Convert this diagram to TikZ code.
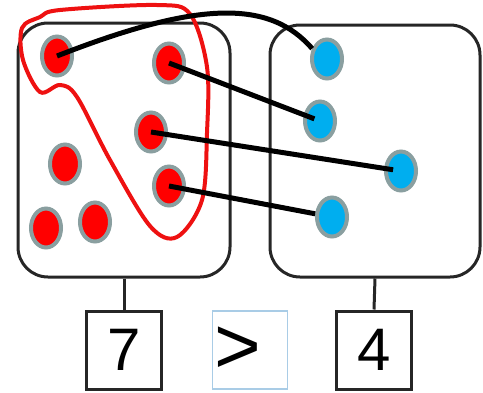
\documentclass[tikz,border=0pt]{standalone}
\usepackage{fontspec}
\setmainfont{Liberation Sans}
\definecolor{GrisBord}{HTML}{8A9FA0}
\definecolor{BleuPoint}{HTML}{00AEEF}
\definecolor{BleuCase}{HTML}{A9CCE6}
\definecolor{RougeLasso}{HTML}{EE1111}
\usetikzlibrary{shapes.geometric}
\usetikzlibrary{positioning}
\begin{document}
\begin{tikzpicture}
	[x=1pt, y=-1pt,
	boite/.style = {shape=rectangle, rounded corners=30pt, draw=black!85, line width=3pt},
	point/.style = {shape=ellipse, minimum width=30pt, minimum height=39pt, inner sep=0pt,
		draw=GrisBord, line width=4pt},
	rouge/.style = {point, fill=red},
	bleu/.style = {point, fill=BleuPoint},
	case/.style = {shape=rectangle, minimum width=75pt, minimum height=78pt, inner sep=0pt,
		draw=black!85, line width=3pt, font=\fontsize{60}{62}\selectfont},
	lien/.style = {draw=black, line width=5pt}]
	\useasboundingbox (0,0) rectangle (483,392);
	\node[boite, minimum width=212pt, minimum height=254pt] (G) at (124,150) {};
	\node[boite, minimum width=210pt, minimum height=252pt] (D) at (375,151) {};
	\node[case] (N7) at (124,350) {7};
	\node[case, draw=BleuCase, line width=1.5pt, inner sep=2pt, text width=71pt, align=left,
		font=\fontsize{80}{82}\selectfont] (S) at (250,350) {>};
	\node[case] (N4) at (374,350) {4};
	\draw[line width=3pt, black!85] (G.south) -- (N7.north);
	\draw[line width=3pt, black!85] (D.south) -- (N4.north);
	\node[rouge] (r1) at (57,56) {};
	\node[rouge] (r2) at (169,63) {};
	\node[rouge] (r3) at (151,132) {};
	\node[rouge] (r4) at (65,164) {};
	\node[rouge] (r5) at (169,186) {};
	\node[rouge] (r6) at (46,228) {};
	\node[rouge] (r7) at (95,222) {};
	\node[bleu] (b1) at (327,59) {};
	\node[bleu] (b2) at (320,121) {};
	\node[bleu] (b3) at (401,171) {};
	\node[bleu] (b4) at (332,217) {};
	\draw[RougeLasso, line width=4pt] plot[smooth cycle, tension=0.55] coordinates
		{(60,10) (157,5) (190,14) (207,67) (207,133) (202,200) (177,237) (150,226)
		 (110,160) (77,97) (60,85) (40,92) (23,60) (22,28) (40,17)};
	\draw[lien] (r1.center) .. controls (200,0) and (270,0) .. (b1.145);
	\draw[lien, shorten >=6pt] (r2.center) -- (b2.center);
	\draw[lien, shorten >=8pt] (r3.center) -- (b3.center);
	\draw[lien] (r5.center) -- (b4);
\end{tikzpicture}
\end{document}
